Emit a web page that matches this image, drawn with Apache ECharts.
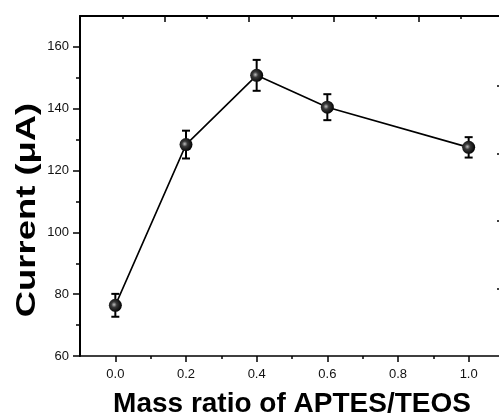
<!DOCTYPE html>
<html>
<head>
<meta charset="utf-8">
<script src="https://cdn.jsdelivr.net/npm/echarts@6/dist/echarts.min.js"></script>
<style>
html,body{margin:0;padding:0;background:#fff;}
#main{width:499px;height:419px;}
</style>
</head>
<body>
<div id="main"></div>
<script>
// mass ratio values and measured current
var ratios = [0.0, 0.2, 0.4, 0.6, 1.0];
var current = [76.4, 128.4, 150.8, 140.5, 127.5];
var errors = [3.7, 4.5, 5.0, 4.2, 3.3];
var xLabels = [0, 0.2, 0.4, 0.6, 0.8, 1.0];
var xMinor = [0.1, 0.3, 0.5, 0.7, 0.9];
var yLabels = [60, 80, 100, 120, 140, 160];
var yMinor = [70, 90, 110, 130, 150];
var yTitle = 'Current (\u03bcA)';
var xTitle = 'Mass ratio of APTES/TEOS';

var chart = echarts.init(document.getElementById('main'));

var lineData = [];
var errData = [];
for (var i = 0; i < ratios.length; i++) {
    lineData.push([ratios[i], current[i]]);
    errData.push([ratios[i], current[i] - errors[i], current[i] + errors[i]]);
}

var font = 'Arial, "Liberation Sans", sans-serif';
var tickLine = {color: '#000', width: 1.5};
var option = {
    animation: false,
    grid: {
        left: 80,
        top: 16,
        width: 424,
        height: 340,
        outerBoundsMode: 'none'
    },
    // y title is drawn stretched like in the original figure
    graphic: [{
        type: 'text',
        x: 27,
        y: 210,
        rotation: Math.PI / 2,
        scaleX: 1.3,
        style: {
            text: yTitle,
            fontFamily: font,
            fontWeight: 'bold',
            fontSize: 28,
            fill: '#000',
            textAlign: 'center',
            textVerticalAlign: 'middle'
        }
    }],
    xAxis: [{
        type: 'value',
        position: 'bottom',
        min: -0.1,
        max: 1.1,
        name: xTitle,
        nameLocation: 'middle',
        nameGap: 34,
        nameTextStyle: {
            fontFamily: font,
            fontWeight: 'bold',
            fontSize: 28,
            color: '#000'
        },
        axisLine: {onZero: false, lineStyle: {color: '#000', width: 1.5}},
        axisTick: {show: true, length: 6, customValues: xLabels, lineStyle: tickLine},
        axisLabel: {
            customValues: xLabels,
            margin: 12,
            fontFamily: font,
            fontSize: 13,
            color: '#111',
            formatter: function (v) { return v.toFixed(1); }
        },
        splitLine: {show: false}
    }, {
        // minor ticks of bottom axis
        type: 'value',
        position: 'bottom',
        min: -0.1,
        max: 1.1,
        axisLine: {show: false, onZero: false},
        axisTick: {show: true, length: 3, customValues: xMinor, lineStyle: tickLine},
        axisLabel: {show: false},
        splitLine: {show: false}
    }, {
        // top frame
        type: 'value',
        position: 'top',
        min: 0,
        max: 5.013,
        interval: 1,
        axisLine: {onZero: false, lineStyle: {color: '#000', width: 2}},
        axisTick: {show: true, inside: true, length: 6, lineStyle: tickLine},
        minorTick: {show: true, splitNumber: 2, length: 3, lineStyle: tickLine},
        axisLabel: {show: false},
        splitLine: {show: false}
    }],
    yAxis: [{
        type: 'value',
        position: 'left',
        min: 60,
        max: 170,
        axisLine: {onZero: false, lineStyle: {color: '#000', width: 2}},
        axisTick: {show: true, length: 7, customValues: yLabels, lineStyle: tickLine},
        axisLabel: {
            customValues: yLabels,
            margin: 11,
            fontFamily: font,
            fontSize: 13,
            color: '#111'
        },
        splitLine: {show: false}
    }, {
        // right frame ticks
        type: 'value',
        position: 'right',
        min: 0,
        max: 5.04,
        axisLine: {show: false, onZero: false},
        axisTick: {show: true, inside: true, length: 7, customValues: [1, 2, 3, 4], lineStyle: tickLine},
        axisLabel: {show: false},
        splitLine: {show: false}
    }, {
        // minor ticks of left axis
        type: 'value',
        position: 'left',
        min: 60,
        max: 170,
        axisLine: {show: false, onZero: false},
        axisTick: {show: true, length: 4, customValues: yMinor, lineStyle: tickLine},
        axisLabel: {show: false},
        splitLine: {show: false}
    }],
    series: [{
        name: 'error',
        type: 'custom',
        xAxisIndex: 0,
        yAxisIndex: 0,
        z: 1,
        renderItem: function (params, api) {
            var x = api.value(0);
            var lo = api.coord([x, api.value(1)]);
            var hi = api.coord([x, api.value(2)]);
            var w = 4;
            var style = {stroke: '#000', lineWidth: 2};
            return {
                type: 'group',
                children: [
                    {type: 'line', shape: {x1: lo[0], y1: lo[1], x2: hi[0], y2: hi[1]}, style: style},
                    {type: 'line', shape: {x1: lo[0] - w, y1: lo[1], x2: lo[0] + w, y2: lo[1]}, style: style},
                    {type: 'line', shape: {x1: hi[0] - w, y1: hi[1], x2: hi[0] + w, y2: hi[1]}, style: style}
                ]
            };
        },
        data: errData
    }, {
        name: 'Current',
        type: 'line',
        xAxisIndex: 0,
        yAxisIndex: 0,
        z: 2,
        symbol: 'circle',
        symbolSize: 13,
        lineStyle: {color: '#000', width: 1.6},
        itemStyle: {
            color: new echarts.graphic.RadialGradient(0.4, 0.45, 0.6, [{
                offset: 0, color: '#bdbdbd'
            }, {
                offset: 0.35, color: '#3a3a3a'
            }, {
                offset: 1, color: '#000'
            }]),
            borderWidth: 0
        },
        data: lineData
    }]
};
chart.setOption(option);
window.addEventListener('resize', function () {
    chart.resize();
});
</script>
</body>
</html>
